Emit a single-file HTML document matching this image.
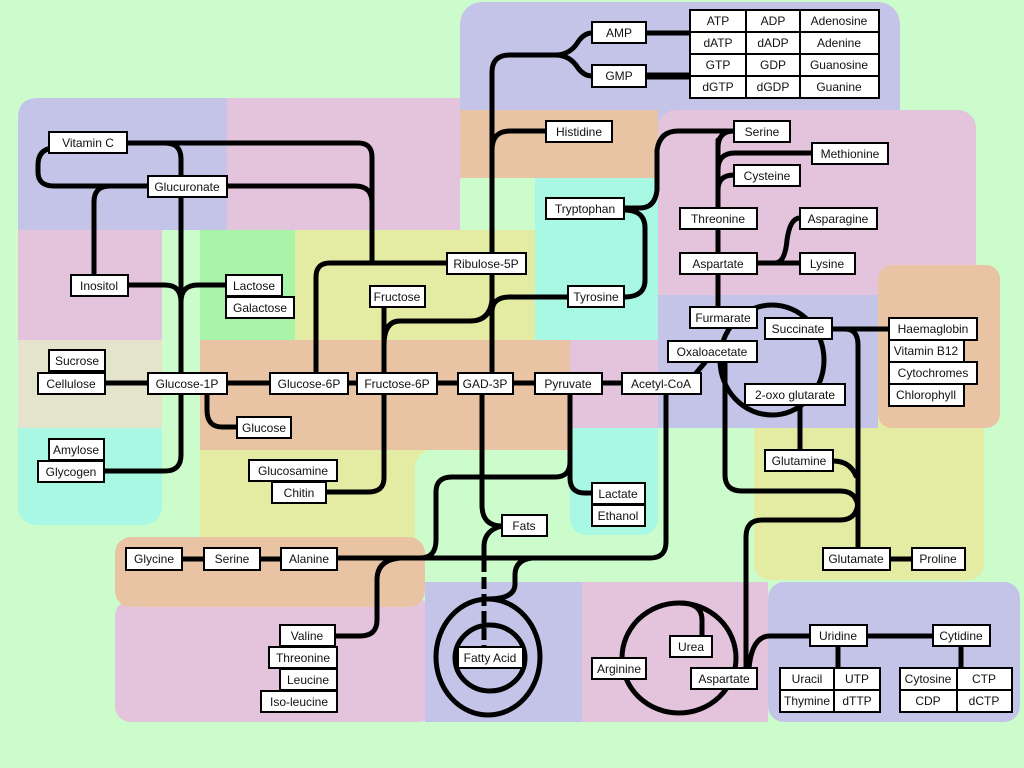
<!DOCTYPE html>
<html><head><meta charset="utf-8"><style>
body{margin:0;background:#ccfccc}
svg{display:block}
text{font-family:"Liberation Sans",sans-serif;font-size:12px;fill:#111;text-anchor:middle;dominant-baseline:central}
.b{fill:#fff;stroke:#000;stroke-width:2}
.l{fill:none;stroke:#000;stroke-width:5;stroke-linecap:round;stroke-linejoin:round}
</style></head><body>
<svg width="1024" height="768" viewBox="0 0 1024 768" xmlns="http://www.w3.org/2000/svg">
<rect width="1024" height="768" fill="#ccfccc"/>
<!-- regions -->
<rect x="460" y="2" width="440" height="130" rx="22" fill="#c4c4e8"/>
<path d="M18,118 Q18,98 38,98 H233 V230 H18 Z" fill="#c4c4e8"/>
<rect x="227" y="98" width="233" height="132" fill="#e4c4dc"/>
<rect x="460" y="110" width="198" height="68" fill="#e8c4a4"/>
<rect x="658" y="110" width="318" height="200" rx="18" fill="#e4c4dc"/>
<rect x="460" y="178" width="75" height="52" rx="16" fill="#ccfccc"/>
<rect x="18" y="230" width="144" height="110" fill="#e4c4dc"/>
<rect x="200" y="230" width="95" height="110" fill="#a8f4a8"/>
<rect x="295" y="230" width="240" height="110" fill="#e4eca4"/>
<rect x="535" y="178" width="123" height="162" fill="#a8f8e4"/>
<rect x="18" y="400" width="144" height="125" rx="18" fill="#a8f8e4"/>
<rect x="18" y="340" width="144" height="88" fill="#e4e4cc"/>
<rect x="200" y="340" width="370" height="110" fill="#e8c4a4"/>
<rect x="570" y="400" width="88" height="135" rx="16" fill="#a8f8e4"/>
<rect x="570" y="340" width="88" height="88" fill="#e4c4dc"/>
<rect x="200" y="450" width="225" height="100" fill="#e4eca4"/>
<rect x="415" y="450" width="155" height="130" rx="18" fill="#ccfccc"/>
<rect x="754" y="400" width="230" height="180" rx="16" fill="#e4eca4"/>
<rect x="878" y="265" width="122" height="163" rx="14" fill="#e8c4a4"/>
<rect x="658" y="295" width="220" height="133" fill="#c4c4e8"/>
<rect x="658" y="428" width="96" height="150" rx="16" fill="#ccfccc"/>
<rect x="115" y="600" width="320" height="122" rx="16" fill="#e4c4dc"/>
<rect x="115" y="537" width="310" height="70" rx="16" fill="#e8c4a4"/>
<rect x="768" y="582" width="252" height="140" rx="16" fill="#c4c4e8"/>
<rect x="425" y="582" width="157" height="140" fill="#c4c4e8"/>
<rect x="582" y="582" width="186" height="140" fill="#e4c4dc"/>
<!-- lines -->
<g class="l">
<path d="M127,143 H358 Q372,143 372,157 V263"/>
<path d="M227,186 H355 Q372,186 372,203"/>
<path d="M447,263 H330 Q316,263 316,277 V373"/>
<path d="M52,148 Q38,150 38,165 V172 Q38,186 54,186 H148"/>
<path d="M127,143 H165 Q181,143 181,159 V373"/>
<path d="M181,394 V455 Q181,471 165,471 H104"/>
<path d="M94,275 V202 Q94,186 110,186"/>
<path d="M128,285 H165 Q181,285 181,302"/>
<path d="M226,285 H198 Q181,285 181,302"/>
<path d="M105,383 H622"/>
<path d="M207,394 V410 Q207,427 222,427 H237"/>
<path d="M384,307 V373"/>
<path d="M384,345 Q384,321 400,321 H470 Q490,321 492,300"/>
<path d="M492,312 Q492,297 510,297 H568"/>
<path d="M384,394 V478 Q384,492 368,492 H326"/>
<path d="M492,373 V72 Q492,55 510,55 H555 Q570,55 578,42 Q584,33 592,33"/>
<path d="M555,55 Q570,55 578,68 Q584,76 592,76"/>
<path d="M646,33 H690"/>
<path d="M646,76 H690" stroke-width="7"/>
<path d="M492,150 Q492,131 510,131 H546"/>
<path d="M482,394 V505 Q482,526 502,526"/>
<path d="M502,526 Q485,530 484,545 V560"/>
<path d="M484,560 V647" stroke-dasharray="12,5" stroke-linecap="butt"/>
<ellipse cx="488" cy="657" rx="52" ry="58"/>
<ellipse cx="490" cy="658" rx="35" ry="33"/>
<path d="M488,599 Q515,599 515,584 V575 Q515,560 532,558"/>
<path d="M337,558 H650 Q666,558 666,542 V394"/>
<path d="M692,378 L707,360"/>
<path d="M400,558 Q377,560 377,580 V620 Q377,636 360,636 H335"/>
<path d="M420,558 Q436,558 436,540 V492 Q436,477 452,477 H555 Q570,477 570,462 V394"/>
<path d="M570,394 V478 Q570,493 585,493 H592"/>
<path d="M718,140 V307"/>
<path d="M734,131 Q718,131 718,148"/>
<path d="M812,153 H735 Q718,153 718,170"/>
<path d="M734,175 Q718,175 718,190"/>
<path d="M624,208 H640 Q655,208 657,190 V150 Q660,131 678,131 H734"/>
<path d="M624,210 Q645,210 645,228 V280 Q645,297 624,297"/>
<path d="M757,263 H800"/>
<path d="M775,263 Q785,263 787,240 Q790,218 800,218"/>
<ellipse cx="772" cy="360" rx="52" ry="55"/>
<path d="M800,405 V450"/>
<path d="M832,329 H889"/>
<path d="M845,329 Q858,329 858,345 V548"/>
<path d="M833,461 Q850,461 856,476"/>
<path d="M725,362 V475 Q725,491 742,491 H840 Q858,491 858,510"/>
<path d="M858,500 Q858,520 840,520 H762 Q746,520 746,537 V668"/>
<path d="M749,668 Q752,636 770,636 H810"/>
<path d="M867,636 H933"/>
<path d="M838,646 V668"/>
<path d="M961,646 V668"/>
<path d="M890,559 H912"/>
<path d="M182,559 H204"/>
<path d="M260,559 H281"/>
<ellipse cx="679" cy="658" rx="57" ry="55"/>
<path d="M680,603 Q702,603 702,620 V636"/>
</g>
<!-- nodes -->
<g>
<rect class="b" x="49" y="132" width="78" height="21"/><text x="88" y="143">Vitamin C</text>
<rect class="b" x="148" y="176" width="79" height="21"/><text x="187" y="187">Glucuronate</text>
<rect class="b" x="71" y="275" width="57" height="21"/><text x="99" y="286">Inositol</text>
<rect class="b" x="226" y="275" width="56" height="21"/><text x="254" y="286">Lactose</text>
<rect class="b" x="226" y="297" width="68" height="21"/><text x="260" y="308">Galactose</text>
<rect class="b" x="49" y="350" width="56" height="21"/><text x="77" y="361">Sucrose</text>
<rect class="b" x="38" y="373" width="67" height="21"/><text x="71" y="384">Cellulose</text>
<rect class="b" x="148" y="373" width="79" height="21"/><text x="187" y="384">Glucose-1P</text>
<rect class="b" x="270" y="373" width="78" height="21"/><text x="309" y="384">Glucose-6P</text>
<rect class="b" x="357" y="373" width="80" height="21"/><text x="397" y="384">Fructose-6P</text>
<rect class="b" x="458" y="373" width="55" height="21"/><text x="485" y="384">GAD-3P</text>
<rect class="b" x="535" y="373" width="67" height="21"/><text x="568" y="384">Pyruvate</text>
<rect class="b" x="622" y="373" width="79" height="21"/><text x="661" y="384">Acetyl-CoA</text>
<rect class="b" x="237" y="417" width="54" height="21"/><text x="264" y="428">Glucose</text>
<rect class="b" x="49" y="439" width="55" height="21"/><text x="76" y="450">Amylose</text>
<rect class="b" x="38" y="461" width="66" height="21"/><text x="71" y="472">Glycogen</text>
<rect class="b" x="249" y="460" width="88" height="21"/><text x="293" y="471">Glucosamine</text>
<rect class="b" x="272" y="482" width="54" height="21"/><text x="299" y="493">Chitin</text>
<rect class="b" x="370" y="286" width="55" height="21"/><text x="397" y="297">Fructose</text>
<rect class="b" x="447" y="253" width="79" height="21"/><text x="486" y="264">Ribulose-5P</text>
<rect class="b" x="546" y="121" width="66" height="21"/><text x="579" y="132">Histidine</text>
<rect class="b" x="546" y="198" width="78" height="21"/><text x="585" y="209">Tryptophan</text>
<rect class="b" x="568" y="286" width="56" height="21"/><text x="596" y="297">Tyrosine</text>
<rect class="b" x="734" y="121" width="56" height="21"/><text x="762" y="132">Serine</text>
<rect class="b" x="812" y="143" width="76" height="21"/><text x="850" y="154">Methionine</text>
<rect class="b" x="734" y="165" width="66" height="21"/><text x="767" y="176">Cysteine</text>
<rect class="b" x="680" y="208" width="77" height="21"/><text x="718" y="219">Threonine</text>
<rect class="b" x="800" y="208" width="77" height="21"/><text x="838" y="219">Asparagine</text>
<rect class="b" x="680" y="253" width="77" height="21"/><text x="718" y="264">Aspartate</text>
<rect class="b" x="800" y="253" width="55" height="21"/><text x="827" y="264">Lysine</text>
<rect class="b" x="690" y="307" width="67" height="21"/><text x="723" y="318">Furmarate</text>
<rect class="b" x="765" y="318" width="67" height="21"/><text x="798" y="329">Succinate</text>
<rect class="b" x="668" y="341" width="89" height="21"/><text x="712" y="352">Oxaloacetate</text>
<rect class="b" x="745" y="384" width="100" height="21"/><text x="795" y="395">2-oxo glutarate</text>
<rect class="b" x="889" y="318" width="88" height="22"/><text x="933" y="329">Haemaglobin</text>
<rect class="b" x="889" y="340" width="75" height="22"/><text x="926" y="351">Vitamin B12</text>
<rect class="b" x="889" y="362" width="88" height="22"/><text x="933" y="373">Cytochromes</text>
<rect class="b" x="889" y="384" width="75" height="22"/><text x="926" y="395">Chlorophyll</text>
<rect class="b" x="765" y="450" width="68" height="21"/><text x="799" y="461">Glutamine</text>
<rect class="b" x="592" y="483" width="53" height="21"/><text x="618" y="494">Lactate</text>
<rect class="b" x="592" y="505" width="53" height="21"/><text x="618" y="516">Ethanol</text>
<rect class="b" x="502" y="515" width="45" height="21"/><text x="524" y="526">Fats</text>
<rect class="b" x="126" y="548" width="56" height="22"/><text x="154" y="559">Glycine</text>
<rect class="b" x="204" y="548" width="56" height="22"/><text x="232" y="559">Serine</text>
<rect class="b" x="281" y="548" width="56" height="22"/><text x="309" y="559">Alanine</text>
<rect class="b" x="823" y="548" width="67" height="22"/><text x="856" y="559">Glutamate</text>
<rect class="b" x="912" y="548" width="53" height="22"/><text x="938" y="559">Proline</text>
<rect class="b" x="280" y="625" width="55" height="21"/><text x="307" y="636">Valine</text>
<rect class="b" x="269" y="647" width="68" height="21"/><text x="303" y="658">Threonine</text>
<rect class="b" x="280" y="669" width="57" height="21"/><text x="308" y="680">Leucine</text>
<rect class="b" x="261" y="691" width="76" height="21"/><text x="299" y="702">Iso-leucine</text>
<rect class="b" x="458" y="647" width="65" height="21"/><text x="490" y="658">Fatty Acid</text>
<rect class="b" x="670" y="636" width="42" height="21"/><text x="691" y="647">Urea</text>
<rect class="b" x="592" y="658" width="54" height="21"/><text x="619" y="669">Arginine</text>
<rect class="b" x="691" y="668" width="66" height="21"/><text x="724" y="679">Aspartate</text>
<rect class="b" x="810" y="625" width="57" height="21"/><text x="838" y="636">Uridine</text>
<rect class="b" x="933" y="625" width="57" height="21"/><text x="961" y="636">Cytidine</text>
<rect class="b" x="780" y="668" width="54" height="22"/><text x="807" y="679">Uracil</text>
<rect class="b" x="834" y="668" width="46" height="22"/><text x="857" y="679">UTP</text>
<rect class="b" x="780" y="690" width="54" height="22"/><text x="807" y="701">Thymine</text>
<rect class="b" x="834" y="690" width="46" height="22"/><text x="857" y="701">dTTP</text>
<rect class="b" x="900" y="668" width="57" height="22"/><text x="928" y="679">Cytosine</text>
<rect class="b" x="957" y="668" width="55" height="22"/><text x="984" y="679">CTP</text>
<rect class="b" x="900" y="690" width="57" height="22"/><text x="928" y="701">CDP</text>
<rect class="b" x="957" y="690" width="55" height="22"/><text x="984" y="701">dCTP</text>
<rect class="b" x="592" y="22" width="54" height="21"/><text x="619" y="33">AMP</text>
<rect class="b" x="592" y="65" width="54" height="22"/><text x="619" y="76">GMP</text>
<rect class="b" x="690" y="10" width="56" height="22"/><text x="718" y="21">ATP</text>
<rect class="b" x="746" y="10" width="54" height="22"/><text x="773" y="21">ADP</text>
<rect class="b" x="800" y="10" width="79" height="22"/><text x="839" y="21">Adenosine</text>
<rect class="b" x="690" y="32" width="56" height="22"/><text x="718" y="43">dATP</text>
<rect class="b" x="746" y="32" width="54" height="22"/><text x="773" y="43">dADP</text>
<rect class="b" x="800" y="32" width="79" height="22"/><text x="839" y="43">Adenine</text>
<rect class="b" x="690" y="54" width="56" height="22"/><text x="718" y="65">GTP</text>
<rect class="b" x="746" y="54" width="54" height="22"/><text x="773" y="65">GDP</text>
<rect class="b" x="800" y="54" width="79" height="22"/><text x="839" y="65">Guanosine</text>
<rect class="b" x="690" y="76" width="56" height="22"/><text x="718" y="87">dGTP</text>
<rect class="b" x="746" y="76" width="54" height="22"/><text x="773" y="87">dGDP</text>
<rect class="b" x="800" y="76" width="79" height="22"/><text x="839" y="87">Guanine</text>
</g>
</svg>
</body></html>
